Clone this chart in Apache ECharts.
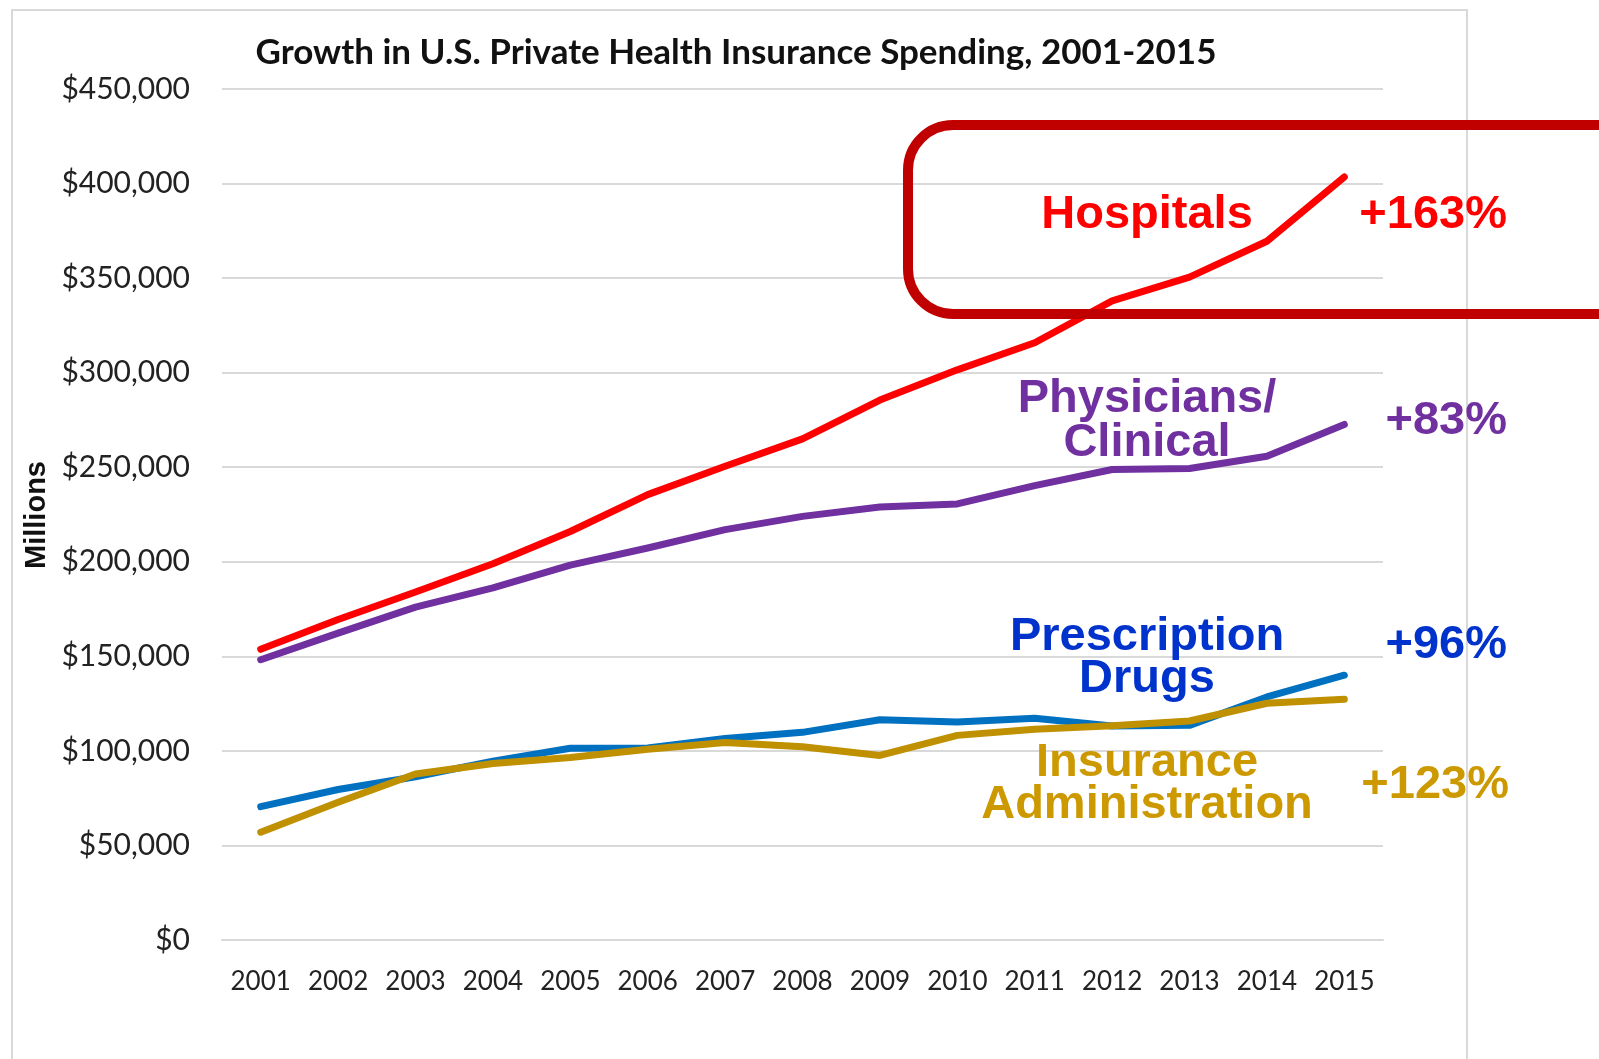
<!DOCTYPE html>
<html>
<head>
<meta charset="utf-8">
<title>Growth in U.S. Private Health Insurance Spending</title>
<script src="https://cdn.jsdelivr.net/npm/echarts@6/dist/echarts.min.js"></script>
<style>
  html, body { margin: 0; padding: 0; background: #fff; }
  #main { width: 1599px; height: 1059px; }
</style>
</head>
<body>
<div id="main"></div>
<script>
// millions of dollars
var years = ['2001','2002','2003','2004','2005','2006','2007','2008','2009','2010','2011','2012','2013','2014','2015'];
var hospitals  = [153700, 169500, 184000, 199000, 216000, 235500, 250500, 265000, 285500, 301500, 315800, 338000, 350500, 369500, 403500];
var physicians = [148200, 162300, 176000, 186200, 198200, 207300, 217000, 224000, 229000, 230600, 240300, 248800, 249300, 255800, 272600];
var drugs      = [70500, 79600, 86300, 94600, 101400, 101500, 106500, 109800, 116500, 115300, 117300, 113200, 113500, 128500, 140000];
var insAdmin   = [57000, 72800, 87800, 93300, 96500, 100900, 104400, 102200, 97600, 108200, 111500, 113300, 115800, 125200, 127300];

(function(){
  var chart = echarts.init(document.getElementById('main'));

  var calibri = 'Lato, "Open Sans", sans-serif';
  var arial = '"Liberation Sans", Arial, sans-serif';

  function line(name, data, color) {
    return {
      name: name,
      type: 'line',
      data: data,
      symbol: 'none',
      smooth: false,
      lineStyle: { width: 7, color: color, cap: 'round', join: 'round' },
      itemStyle: { color: color },
      z: 3
    };
  }

  function label(text, x, y, color, align) {
    return {
      type: 'text',
      x: x, y: y, z: 10,
      style: {
        text: text,
        fill: color,
        font: 'bold 47px ' + arial,
        textAlign: align || 'center',
        textVerticalAlign: 'middle'
      }
    };
  }

  var option = {
    animation: false,
    backgroundColor: '#fff',
    grid: { left: 222, right: 216, top: 89, bottom: 119 },
    xAxis: {
      type: 'category',
      data: years,
      boundaryGap: true,
      axisLine: { show: true, lineStyle: { color: '#d9d9d9', width: 2 } },
      axisTick: { show: false },
      axisLabel: { color: '#222', fontFamily: calibri, fontSize: 26, margin: 29, interval: 0 }
    },
    yAxis: {
      type: 'value',
      min: 0,
      max: 450000,
      interval: 50000,
      axisLine: { show: false },
      axisTick: { show: false },
      axisLabel: {
        color: '#222', fontFamily: calibri, fontSize: 30, margin: 32,
        formatter: function (v) { return '$' + v.toLocaleString('en-US'); }
      },
      splitLine: { lineStyle: { color: '#d9d9d9', width: 2 } }
    },
    series: [
      line('Hospitals', hospitals, '#ff0000'),
      line('Physicians/Clinical', physicians, '#7030a0'),
      line('Prescription Drugs', drugs, '#0070c0'),
      line('Insurance Administration', insAdmin, '#bf9000')
    ],
    graphic: [
      // outer chart frame
      { type: 'rect', shape: { x: 12, y: 10, width: 1455, height: 1060 },
        style: { fill: 'none', stroke: '#d9d9d9', lineWidth: 2 }, z: 0 },
      { type: 'text', x: 736, y: 53, style: {
          text: 'Growth in U.S. Private Health Insurance Spending, 2001-2015',
          fill: '#111', font: 'bold 35px ' + calibri,
          textAlign: 'center', textVerticalAlign: 'middle' } },
      { type: 'text', x: 37, y: 515, rotation: Math.PI / 2, style: {
          text: 'Millions', fill: '#111', font: 'bold 29px ' + arial,
          textAlign: 'center', textVerticalAlign: 'middle' } },
      // highlight box round hospitals
      { type: 'rect', z: 9, shape: { x: 908, y: 125, width: 760, height: 189, r: 45 },
        style: { fill: 'none', stroke: '#c00000', lineWidth: 10 } },
      label('Hospitals', 1147, 215, '#ff0000'),
      label('+163%', 1507, 215, '#ff0000', 'right'),
      label('Physicians/', 1147, 399, '#7030a0'),
      label('Clinical', 1147, 443, '#7030a0'),
      label('+83%', 1507, 421, '#7030a0', 'right'),
      label('Prescription', 1147, 637, '#0033cc'),
      label('Drugs', 1147, 679, '#0033cc'),
      label('+96%', 1507, 645, '#0033cc', 'right'),
      label('Insurance', 1147, 763, '#cc9900'),
      label('Administration', 1147, 805, '#cc9900'),
      label('+123%', 1509, 785, '#cc9900', 'right')
    ]
  };

  chart.setOption(option);
})();
</script>
</body>
</html>
